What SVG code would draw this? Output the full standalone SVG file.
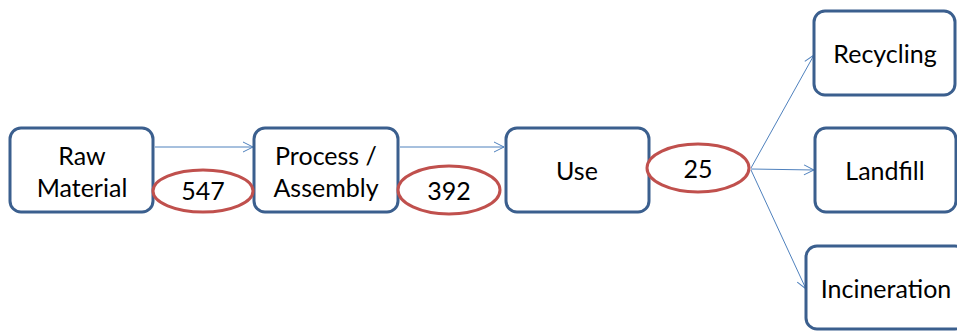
<svg xmlns="http://www.w3.org/2000/svg" width="957" height="332" viewBox="0 0 957 332">
  <defs>
    <marker id="arrow" viewBox="0 0 12 12" refX="11" refY="6" markerWidth="12" markerHeight="12" markerUnits="userSpaceOnUse" orient="auto">
      <path d="M1,1 L11,6 L1,11" fill="none" stroke="#4f81bd" stroke-width="1"/>
    </marker>
  </defs>
  <style>
    .box { fill: #ffffff; stroke: #3b5f8e; stroke-width: 3; }
    .qty { fill: #ffffff; stroke: #c0504d; stroke-width: 3; }
    .link { stroke: #4f81bd; stroke-width: 1; fill: none; marker-end: url(#arrow); }
    text { font-family: Lato, "Liberation Sans", sans-serif; font-size: 25px; fill: #000000; text-anchor: middle; dominant-baseline: central; }
  </style>
  <rect width="957" height="332" fill="#ffffff"/>

  <!-- flow connectors -->
  <g id="connectors">
    <line class="link" x1="155" y1="147" x2="253" y2="147"/>
    <line class="link" x1="400" y1="147" x2="504" y2="147"/>
    <line class="link" x1="751" y1="168" x2="814" y2="55"/>
    <line class="link" x1="751" y1="169" x2="814" y2="170"/>
    <line class="link" x1="751" y1="170" x2="806" y2="289"/>
  </g>

  <!-- stages -->
  <g id="raw-material">
    <rect class="box" x="10" y="128" width="143" height="84" rx="11"/>
    <text x="82" y="155">Raw</text>
    <text x="82" y="187">Material</text>
  </g>
  <g id="process-assembly">
    <rect class="box" x="254" y="128" width="144" height="84" rx="11"/>
    <text x="326" y="155">Process /</text>
    <text x="326" y="187">Assembly</text>
  </g>
  <g id="use">
    <rect class="box" x="506" y="128" width="143" height="84" rx="11"/>
    <text x="577" y="170">Use</text>
  </g>
  <g id="recycling">
    <rect class="box" x="814" y="11" width="141" height="84" rx="11"/>
    <text x="885" y="53">Recycling</text>
  </g>
  <g id="landfill">
    <rect class="box" x="815" y="128" width="141" height="84" rx="11"/>
    <text x="885" y="170">Landfill</text>
  </g>
  <g id="incineration">
    <rect class="box" x="806" y="246" width="160" height="83" rx="11"/>
    <text x="886" y="288">Incineration</text>
  </g>

  <!-- quantities -->
  <g id="qty-547">
    <ellipse class="qty" cx="203" cy="191" rx="50" ry="21"/>
    <text x="203" y="190">547</text>
  </g>
  <g id="qty-392">
    <ellipse class="qty" cx="449" cy="190" rx="51" ry="24"/>
    <text x="449" y="190">392</text>
  </g>
  <g id="qty-25">
    <ellipse class="qty" cx="698" cy="168" rx="51" ry="24"/>
    <text x="698" y="168">25</text>
  </g>
</svg>
